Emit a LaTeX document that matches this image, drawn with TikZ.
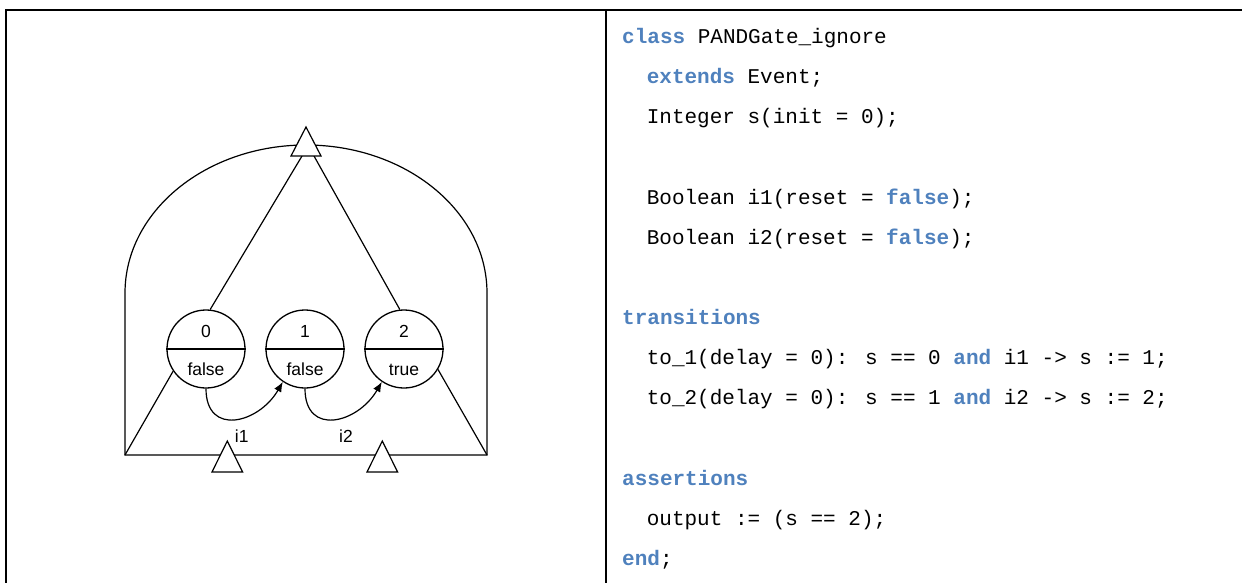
\documentclass[tikz,border=0pt]{standalone}
\usepackage{fontspec}
\setmainfont{Liberation Sans}
\newfontfamily\codefont{Liberation Mono}
\usetikzlibrary{arrows.meta}
\definecolor{kw}{HTML}{4F81BD}
\newcommand{\kwd}[1]{{\bfseries\color{kw}#1}}
\begin{document}
\begin{tikzpicture}[x=1pt,y=-1pt,
  frame/.style={line width=2pt},
  thin/.style={line width=1.2pt},
  state/.style={circle,draw,line width=1.3pt,minimum size=78pt,inner sep=0pt,fill=white},
  stxt/.style={font=\fontsize{17.5}{20}\selectfont,inner sep=0pt},
  tri/.style={draw,line width=1.2pt,fill=white,line join=miter},
  code/.style={anchor=base west,inner sep=0pt,font=\codefont\fontsize{21}{24}\selectfont},
  arr/.style={line width=1.2pt,-{Latex[length=10pt,width=8pt]}}]
\useasboundingbox (0,0) rectangle (1242,583);
% table frame
\coordinate (tl) at (6,10);
\coordinate (tr) at (1242,10);
\coordinate (bl) at (6,583);
\coordinate (mt) at (606,10);
\coordinate (mb) at (606,583);
\draw[frame] (bl) -- (tl) -- (tr);
\draw[frame] (mt) -- (mb);
% dome
\coordinate (dl) at (125,455);
\coordinate (dr) at (487,455);
\draw[thin] (dl) -- (125,293) arc[start angle=180,end angle=0,x radius=181,y radius=-148] -- (dr) -- cycle;
% states
\node[state] (s0) at (206,349) {};
\node[state] (s1) at (305,349) {};
\node[state] (s2) at (404,349) {};
\foreach \s in {s0,s1,s2}{\draw[line width=1.3pt] (\s.west) -- (\s.east);}
\node[stxt] (v0) at (206,331.5) {0};
\node[stxt] (v1) at (305,331.5) {1};
\node[stxt] (v2) at (404,331.5) {2};
\node[stxt] (o0) at (206,369.5) {false};
\node[stxt] (o1) at (305,369.5) {false};
\node[stxt] (o2) at (404,369.5) {true};
% gate connections
\coordinate (tbl) at (302,156);
\coordinate (tbr) at (314,156);
\draw[thin] (tbl) -- (s0.84);
\draw[thin] (tbr) -- (s2.96);
\draw[thin] (s0.214) -- (dl);
\draw[thin] (s2.-31) -- (dr);
% transitions
\draw[arr] (s0.south) to[out=-90,in=-120,looseness=1.6] (s1.236);
\draw[arr] (s1.south) to[out=-90,in=-120,looseness=1.6] (s2.236);
\node[stxt] (l1) at (241.7,436) {i1};
\node[stxt] (l2) at (346,436) {i2};
% ports
\coordinate (top) at (306,127);
\filldraw[tri] (291,156) -- (top) -- (321,156) -- cycle;
\coordinate (in1) at (227.3,441);
\filldraw[tri] (212,472) -- (in1) -- (242.6,472) -- cycle;
\coordinate (in2) at (382.3,441);
\filldraw[tri] (367,472) -- (in2) -- (397.6,472) -- cycle;
% code
\node[code] (c1) at (622,43.5) {\kwd{class} PANDGate\_ignore};
\node[code] (c2) at (646.6,83.65) {\kwd{extends} Event;};
\node[code] (c3) at (646.6,123.8) {Integer s(init = 0);};
\node[code] (c5) at (646.6,204.1) {Boolean i1(reset = \kwd{false});};
\node[code] (c6) at (646.6,244.25) {Boolean i2(reset = \kwd{false});};
\node[code] (c8) at (622,324.55) {\kwd{transitions}};
\node[code] (c9) at (646.6,364.7) {to\_1(delay = 0): s == 0 \kwd{and} i1 -> s := 1;};
\node[code] (c10) at (646.6,404.85) {to\_2(delay = 0): s == 1 \kwd{and} i2 -> s := 2;};
\node[code] (c12) at (622,485.15) {\kwd{assertions}};
\node[code] (c13) at (646.6,525.3) {output := (s == 2);};
\node[code] (c14) at (622,565.45) {\kwd{end};};
\end{tikzpicture}
\end{document}
